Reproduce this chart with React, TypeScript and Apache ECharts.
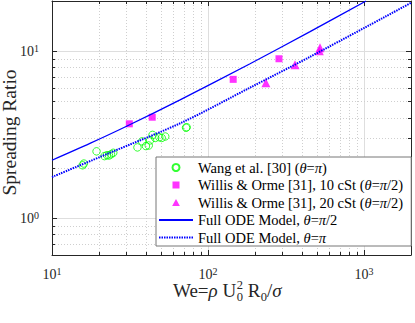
import React, { useEffect, useRef } from 'react';
import * as echarts from 'echarts';

const FONT = "'Liberation Serif', 'Times New Roman', Times, serif";
const AXIS_COLOR = '#262626';

// ---- data ----
const wangWe = [15.7, 16.0, 19.3, 21.7, 22.5, 23.2, 23.9, 24.7, 35.3, 37.8, 40.0, 41.7, 42.5, 44.1, 45.9, 48.7, 50.5, 53.2, 72.3, 73.0];
const wangSR = [2.07, 2.12, 2.51, 2.35, 2.38, 2.37, 2.41, 2.46, 2.65, 2.88, 2.70, 2.72, 2.92, 3.15, 3.02, 3.05, 3.02, 3.08, 3.48, 3.50];
const willis10We = [31.3, 43.9, 145, 285];
const willis10SR = [3.67, 4.02, 6.78, 9.01];
const willis20We = [235, 361, 522, 517];
const willis20SR = [6.48, 8.29, 10.5, 10.06];
const odeHalfPiWe = [10, 17.5, 30.3, 66.2, 186, 451, 1030];
const odeHalfPiSR = [2.22, 2.80, 3.56, 5.11, 8.41, 13.1, 20];
const odePiWe = [10, 23.5, 68.1, 186, 451, 2000];
const odePiSR = [1.76, 2.46, 3.74, 6.05, 9.26, 19.5];

const xMinorTicks = [20, 30, 40, 50, 60, 70, 80, 90, 200, 300, 400, 500, 600, 700, 800, 900];
const yMinorTicks = [0.7, 0.8, 0.9, 2, 3, 4, 5, 6, 7, 8, 9];

const X_MIN = 10;
const X_MAX = 2000;
const Y_MIN = 0.6;
const Y_MAX = 20;

const yAxisTitle = 'Spreading Ratio';

const seriesNames = [
  'Wang et al. [30] (θ=π)',
  'Willis & Orme [31], 10 cSt (θ=π/2)',
  'Willis & Orme [31], 20 cSt (θ=π/2)',
  'Full ODE Model, θ=π/2',
  'Full ODE Model, θ=π',
];

const zip = (a: number[], b: number[]) => a.map((v, i) => [v, b[i]]);

const powLabel = (v: number) => {
  const l = Math.log10(v);
  const e = Math.round(l);
  if (Math.abs(l - e) > 1e-6) return '';
  return '{b|10}{sup|' + e + '}';
};

const labelRich = {
  b: { fontFamily: FONT, fontSize: 14, color: AXIS_COLOR, lineHeight: 15, verticalAlign: 'bottom' },
  sup: { fontFamily: FONT, fontSize: 10, color: AXIS_COLOR, lineHeight: 9, verticalAlign: 'top' },
};

export default function App() {
  const ref = useRef<HTMLDivElement>(null);

  useEffect(() => {
    if (!ref.current) return;
    const chart = echarts.init(ref.current, undefined, { renderer: 'svg' });

    // layout of the x-axis name (stacked sub/superscripts)
    const ctx = document.createElement('canvas').getContext('2d') as CanvasRenderingContext2D;
    const measure = (t: string, size: number, italic = false) => {
      ctx.font = `${italic ? 'italic ' : ''}${size}px ${FONT}`;
      return ctx.measureText(t).width;
    };
    const MAIN = 19;
    const SMALL = 12.5;
    const yMid = 290.5;
    const ySup = 284.5;
    const ySub = 297;
    const nameEls: any[] = [];
    let cx = 173;
    const addMain = (t: string, italic = false) => {
      nameEls.push({
        type: 'text', x: cx, y: yMid,
        style: { text: t, fontFamily: FONT, fontSize: MAIN, lineHeight: 14, fontStyle: italic ? 'italic' : 'normal', fill: AXIS_COLOR, verticalAlign: 'middle', align: 'left' },
      });
      cx += measure(t, MAIN, italic);
    };
    const addSmall = (t: string, y: number, advance = true) => {
      nameEls.push({
        type: 'text', x: cx + 0.5, y,
        style: { text: t, fontFamily: FONT, fontSize: SMALL, lineHeight: 10, fill: AXIS_COLOR, verticalAlign: 'middle', align: 'left' },
      });
      if (advance) cx += measure(t, SMALL) + 0.5;
    };
    addMain('We=');
    addMain('ρ', true);
    addMain(' U');
    addSmall('2', ySup, false);
    addSmall('0', ySub, true);
    addMain(' R');
    addSmall('0', ySub, true);
    addMain('/');
    addMain('σ', true);

    const minorStyle = { stroke: '#cfcfcf', lineWidth: 1, lineDash: [1, 2] };
    const tickStyle = { stroke: AXIS_COLOR, lineWidth: 1 };
    const hiddenSymbol = { color: 'rgba(0,0,0,0)', borderColor: 'rgba(0,0,0,0)', borderWidth: 0 };

    const option: any = {
      animation: false,
      backgroundColor: '#ffffff',
      grid: { left: 52, right: 4, top: 1, bottom: 68 },
      xAxis: [
        {
          type: 'log', logBase: 10, min: X_MIN, max: X_MAX, position: 'bottom',
          axisLine: { show: true, onZero: false, lineStyle: { color: AXIS_COLOR, width: 1 } },
          axisTick: { show: true, inside: true, length: 5, lineStyle: { color: AXIS_COLOR } },
          axisLabel: { show: true, margin: 11, align: 'center', formatter: powLabel, rich: labelRich, color: AXIS_COLOR },
          splitLine: { show: true, lineStyle: { color: '#dedede', width: 1 } },
        },
        {
          type: 'log', logBase: 10, min: X_MIN, max: X_MAX, position: 'top',
          axisLine: { show: true, onZero: false, lineStyle: { color: AXIS_COLOR, width: 1 } },
          axisTick: { show: true, inside: true, length: 5, lineStyle: { color: AXIS_COLOR } },
          axisLabel: { show: false },
          splitLine: { show: false },
        },
      ],
      yAxis: [
        {
          type: 'log', logBase: 10, min: Y_MIN, max: Y_MAX, position: 'left',
          axisLine: { show: true, onZero: false, lineStyle: { color: AXIS_COLOR, width: 1 } },
          axisTick: { show: true, inside: true, length: 5, lineStyle: { color: AXIS_COLOR } },
          axisLabel: { show: true, margin: 13, formatter: powLabel, rich: labelRich, color: AXIS_COLOR },
          splitLine: { show: true, lineStyle: { color: '#dedede', width: 1 } },
        },
        {
          type: 'log', logBase: 10, min: Y_MIN, max: Y_MAX, position: 'right',
          axisLine: { show: true, onZero: false, lineStyle: { color: AXIS_COLOR, width: 1 } },
          axisTick: { show: true, inside: true, length: 5, lineStyle: { color: AXIS_COLOR } },
          axisLabel: { show: false },
          splitLine: { show: false },
        },
      ],
      legend: {
        orient: 'vertical', left: 156, top: 157,
        itemWidth: 34, itemHeight: 7, itemGap: 2.5,
        padding: [3, 8, 1, 2],
        symbolKeepAspect: true,
        backgroundColor: '#ffffff', borderColor: '#777777', borderWidth: 1, borderRadius: 0,
        selectedMode: false,
        textStyle: {
          fontFamily: FONT, fontSize: 14.5, color: '#000000',
          rich: { it: { fontFamily: FONT, fontSize: 14.5, fontStyle: 'italic', color: '#000000' } },
        },
        formatter: (n: string) => n.replace(/([θπ])/g, '{it|$1}'),
        data: [
          { name: seriesNames[0], icon: 'circle' },
          { name: seriesNames[1], icon: 'path://M0,0L1,0L1,1L0,1Z' },
          { name: seriesNames[2], icon: 'path://M0.5,0L1,0.9L0,0.9Z' },
          { name: seriesNames[3], itemStyle: hiddenSymbol },
          { name: seriesNames[4], itemStyle: hiddenSymbol },
        ],
      },
      graphic: [
        { type: 'group', children: nameEls },
        {
          type: 'text', x: 9.5, y: 132.5, rotation: Math.PI / 2,
          style: { text: yAxisTitle, fontFamily: FONT, fontSize: 19.5, fill: AXIS_COLOR, align: 'center', verticalAlign: 'middle' },
        },
      ],
      series: [
        {
          type: 'custom', coordinateSystem: 'cartesian2d', xAxisIndex: 0, yAxisIndex: 0,
          silent: true, z: 1,
          data: xMinorTicks.map((v) => [v, 1]),
          renderItem: (_p: any, api: any) => {
            const v = api.value(0);
            const b = api.coord([v, Y_MIN]);
            const t = api.coord([v, Y_MAX]);
            const x = Math.round(b[0]) + 0.5;
            return {
              type: 'group',
              children: [
                { type: 'line', shape: { x1: x, y1: b[1], x2: x, y2: t[1] }, style: minorStyle },
                { type: 'line', shape: { x1: x, y1: b[1], x2: x, y2: b[1] - 3 }, style: tickStyle },
                { type: 'line', shape: { x1: x, y1: t[1], x2: x, y2: t[1] + 3 }, style: tickStyle },
              ],
            };
          },
        },
        {
          type: 'custom', coordinateSystem: 'cartesian2d', xAxisIndex: 0, yAxisIndex: 0,
          silent: true, z: 1,
          data: yMinorTicks.map((v) => [20, v]),
          renderItem: (_p: any, api: any) => {
            const v = api.value(1);
            const l = api.coord([X_MIN, v]);
            const r = api.coord([X_MAX, v]);
            const y = Math.round(l[1]) + 0.5;
            return {
              type: 'group',
              children: [
                { type: 'line', shape: { x1: l[0], y1: y, x2: r[0], y2: y }, style: minorStyle },
                { type: 'line', shape: { x1: l[0], y1: y, x2: l[0] + 3, y2: y }, style: tickStyle },
                { type: 'line', shape: { x1: r[0], y1: y, x2: r[0] - 3, y2: y }, style: tickStyle },
              ],
            };
          },
        },
        {
          name: seriesNames[0], type: 'scatter', symbol: 'circle', symbolSize: 7.5, z: 3,
          itemStyle: { color: 'rgba(0,0,0,0)', borderColor: '#00ff00', borderWidth: 1 },
          data: zip(wangWe, wangSR),
        },
        {
          name: seriesNames[1], type: 'scatter', symbol: 'rect', symbolSize: 7, z: 3,
          itemStyle: { color: '#ff00ff' },
          data: zip(willis10We, willis10SR),
        },
        {
          name: seriesNames[2], type: 'scatter', symbol: 'triangle', symbolSize: 9, z: 3,
          itemStyle: { color: '#ff00ff' },
          data: zip(willis20We, willis20SR),
        },
        {
          name: seriesNames[3], type: 'line', symbol: 'none', showSymbol: false, smooth: 0.3, z: 4,
          lineStyle: { color: '#0000ff', width: 1.3 },
          itemStyle: { color: '#0000ff' },
          data: zip(odeHalfPiWe, odeHalfPiSR),
        },
        {
          name: seriesNames[4], type: 'line', symbol: 'none', showSymbol: false, smooth: 0.3, z: 4,
          lineStyle: { color: '#0000ff', width: 2, type: [1.5, 1] },
          itemStyle: { color: '#0000ff' },
          data: zip(odePiWe, odePiSR),
        },
      ],
    };

    chart.setOption(option);
    return () => chart.dispose();
  }, []);

  return (
    <div
      ref={ref}
      style={{ position: 'fixed', left: 0, top: 0, width: 415, height: 323, background: '#fff' }}
    />
  );
}
